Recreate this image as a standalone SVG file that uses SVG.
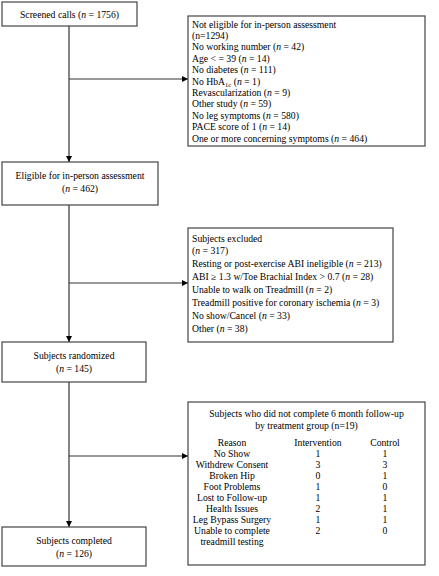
<svg xmlns="http://www.w3.org/2000/svg" width="439" height="576" viewBox="0 0 439 576">
<style>
.box{fill:#fff;stroke:#444;stroke-width:1.2}
.t{font-family:"Liberation Serif","Times New Roman",serif;font-size:9.7px;fill:#000}
.c{text-anchor:middle}
.ln{stroke:#333;stroke-width:1.2;fill:none}
</style>
<defs>
<marker id="ah" viewBox="0 0 10 10" refX="10" refY="5" markerWidth="6" markerHeight="6" markerUnits="userSpaceOnUse" orient="auto">
<path d="M0,0 L10,5 L0,10 z" fill="#000"/>
</marker>
</defs>
<rect width="439" height="576" fill="#fff"/>
<g id="connectors">
<line class="ln" x1="69" y1="26" x2="69" y2="162" marker-end="url(#ah)"/>
<line class="ln" x1="69" y1="79" x2="188" y2="79" marker-end="url(#ah)"/>
<line class="ln" x1="69" y1="205" x2="69" y2="342" marker-end="url(#ah)"/>
<line class="ln" x1="69" y1="283" x2="188" y2="283" marker-end="url(#ah)"/>
<line class="ln" x1="69" y1="382" x2="69" y2="527" marker-end="url(#ah)"/>
<line class="ln" x1="69" y1="456" x2="188" y2="456" marker-end="url(#ah)"/>
</g>
<g id="screened">
<rect class="box" x="2" y="2" width="135" height="24"/>
<text class="t c" x="69.5" y="17.5">Screened calls (<tspan font-style="italic">n</tspan> = 1756)</text>
</g>
<g id="not-eligible">
<rect class="box" x="188" y="16" width="237" height="130"/>
<text class="t" x="192" y="27.5">Not eligible for in-person assessment</text>
<text class="t" x="192" y="38.9">(n=1294)</text>
<text class="t" x="192" y="50.3">No working number (<tspan font-style="italic">n</tspan> = 42)</text>
<text class="t" x="192" y="61.7">Age &lt; = 39 (<tspan font-style="italic">n</tspan> = 14)</text>
<text class="t" x="192" y="73.1">No diabetes (<tspan font-style="italic">n</tspan> = 111)</text>
<text class="t" x="192" y="84.5">No HbA<tspan font-size="6.5px" dy="2">1c</tspan><tspan dy="-2"> (</tspan><tspan font-style="italic">n</tspan> = 1)</text>
<text class="t" x="192" y="95.9">Revascularization (<tspan font-style="italic">n</tspan> = 9)</text>
<text class="t" x="192" y="107.3">Other study (<tspan font-style="italic">n</tspan> = 59)</text>
<text class="t" x="192" y="118.7">No leg symptoms (<tspan font-style="italic">n</tspan> = 580)</text>
<text class="t" x="192" y="130.1">PACE score of 1 (<tspan font-style="italic">n</tspan> = 14)</text>
<text class="t" x="192" y="141.5">One or more concerning symptoms (<tspan font-style="italic">n</tspan> = 464)</text>
</g>
<g id="eligible">
<rect class="box" x="2" y="162" width="156" height="43"/>
<text class="t c" x="80" y="178.5">Eligible for in-person assessment</text>
<text class="t c" x="80" y="191.5">(<tspan font-style="italic">n</tspan> = 462)</text>
</g>
<g id="excluded">
<rect class="box" x="188" y="228" width="205" height="114"/>
<text class="t" x="192" y="241.5">Subjects excluded</text>
<text class="t" x="192" y="254.4">(<tspan font-style="italic">n</tspan> = 317)</text>
<text class="t" x="192" y="267.3">Resting or post-exercise ABI ineligible (<tspan font-style="italic">n</tspan> = 213)</text>
<text class="t" x="192" y="280.2">ABI ≥ 1.3 w/Toe Brachial Index &gt; 0.7 (<tspan font-style="italic">n</tspan> = 28)</text>
<text class="t" x="192" y="293.1">Unable to walk on Treadmill (<tspan font-style="italic">n</tspan> = 2)</text>
<text class="t" x="192" y="306">Treadmill positive for coronary ischemia (<tspan font-style="italic">n</tspan> = 3)</text>
<text class="t" x="192" y="318.9">No show/Cancel (<tspan font-style="italic">n</tspan> = 33)</text>
<text class="t" x="192" y="331.8">Other (<tspan font-style="italic">n</tspan> = 38)</text>
</g>
<g id="randomized">
<rect class="box" x="2" y="342" width="144" height="40"/>
<text class="t c" x="74" y="358.5">Subjects randomized</text>
<text class="t c" x="74" y="371.5">(<tspan font-style="italic">n</tspan> = 145)</text>
</g>
<g id="not-complete">
<rect class="box" x="188" y="402" width="237" height="163"/>
<text class="t c" x="306.5" y="416.5">Subjects who did not complete 6 month follow-up</text>
<text class="t c" x="306.5" y="428.5">by treatment group (n=19)</text>
<g class="t c">
<text x="232" y="445.5">Reason</text><text x="318" y="445.5">Intervention</text><text x="385" y="445.5">Control</text>
<text x="232" y="456.5">No Show</text><text x="318" y="456.5">1</text><text x="385" y="456.5">1</text>
<text x="232" y="467.5">Withdrew Consent</text><text x="318" y="467.5">3</text><text x="385" y="467.5">3</text>
<text x="232" y="478.5">Broken Hip</text><text x="318" y="478.5">0</text><text x="385" y="478.5">1</text>
<text x="232" y="489.5">Foot Problems</text><text x="318" y="489.5">1</text><text x="385" y="489.5">0</text>
<text x="232" y="500.5">Lost to Follow-up</text><text x="318" y="500.5">1</text><text x="385" y="500.5">1</text>
<text x="232" y="511.5">Health Issues</text><text x="318" y="511.5">2</text><text x="385" y="511.5">1</text>
<text x="232" y="522.5">Leg Bypass Surgery</text><text x="318" y="522.5">1</text><text x="385" y="522.5">1</text>
<text x="232" y="533.5">Unable to complete</text><text x="318" y="533.5">2</text><text x="385" y="533.5">0</text>
<text x="232" y="544.5">treadmill testing</text>
</g>
</g>
<g id="completed">
<rect class="box" x="2" y="527" width="144" height="39"/>
<text class="t c" x="74" y="543.5">Subjects completed</text>
<text class="t c" x="74" y="556.5">(<tspan font-style="italic">n</tspan> = 126)</text>
</g>
</svg>
